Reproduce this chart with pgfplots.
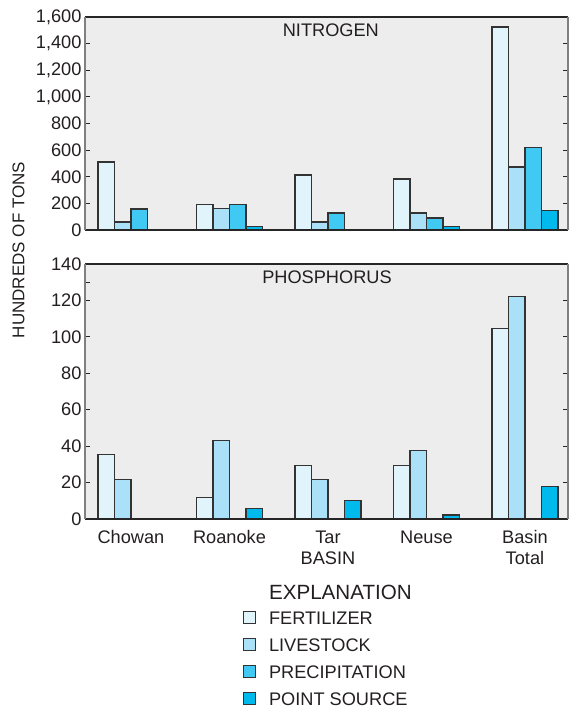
\documentclass[border=0pt]{standalone}
\usepackage{fontspec}
\setmainfont{Liberation Sans}
\usepackage{pgfplots}
\pgfplotsset{compat=1.18}
\definecolor{fert}{HTML}{E1F3FB}
\definecolor{live}{HTML}{ABE0F9}
\definecolor{prec}{HTML}{40C9F3}
\definecolor{pnt}{HTML}{00B9ED}
\definecolor{bg}{HTML}{EDEDED}
\definecolor{edge}{HTML}{333333}
\definecolor{txt}{HTML}{231F20}
\newcommand{\fs}{\fontsize{18.2}{21}\selectfont}
\pgfplotsset{
  panel/.style={
    scale only axis, width=483pt,
    xmin=-0.467, xmax=4.437, ymin=0,
    axis background/.style={fill=bg},
    axis line style={draw=none},
    xtick={0,...,4}, major x tick style={draw=none},
    tick align=inside, major tick length=5pt,
    ticklabel pos=left,
    ytick style={draw=black!85, line width=1pt},
    tick label style={font=\fs, text=txt},
    /pgf/number format/assume math mode=true,
    /pgf/number format/1000 sep={,},
    clip=false,
  },
  bars/.style={ybar, draw=edge, line width=1.1pt, bar width=16.5pt},
  b1/.style={bars, fill=fert, bar shift=-24.75pt},
  b2/.style={bars, fill=live, bar shift=-8.25pt},
  b3/.style={bars, fill=prec, bar shift=8.25pt},
  b4/.style={bars, fill=pnt, bar shift=24.75pt},
}
\begin{document}
\begin{tikzpicture}
\useasboundingbox (0,0) rectangle (569pt,710pt);
% ---------------- NITROGEN ----------------
\begin{axis}[panel, at={(85pt,480pt)}, anchor=south west, height=213pt,
  ymax=1600, ytick={0,200,...,1600}, xticklabels={}]
\addplot[b1] coordinates {(0,511) (1,190) (2,413) (3,383) (4,1525)};
\addplot[b2] coordinates {(0,60) (1,160) (2,60) (3,128) (4,473)};
\addplot[b3] coordinates {(0,158) (1,190) (2,128) (3,90) (4,623)};
\addplot[b4] coordinates {(1,25) (3,23) (4,145)};
\draw[black!85, line width=1.2pt] (rel axis cs:0,0) -- (rel axis cs:1,0);
\draw[black!85, line width=1.2pt] (rel axis cs:0,1) -- (rel axis cs:1,1);
\draw[black!50, line width=2pt] (rel axis cs:0,0) -- (rel axis cs:0,1);
\draw[black!50, line width=2pt] (rel axis cs:1,0) -- (rel axis cs:1,1);
\node[font=\fs, text=txt] at (rel axis cs:0.509,0.937) {NITROGEN};
\end{axis}
% ---------------- PHOSPHORUS ----------------
\begin{axis}[panel, at={(85pt,191pt)}, anchor=south west, height=255pt,
  ymax=140, ytick={0,20,...,140},
  extra y ticks={130}, extra y tick labels={}, extra y tick style={tick pos=left},
  xticklabels={Chowan, Roanoke, {Tar\\BASIN}, Neuse, {Basin\\Total}},
  xticklabel style={align=center, yshift=-8pt, font=\fs},
  legend style={draw=none, fill=none, inner sep=0pt, at={(0.327,-0.255)}, anchor=north west,
    font=\fs, text=txt, row sep=14pt, column sep=13pt,
    nodes={inner sep=0pt, text height=13pt, text depth=0pt}},
  legend cell align=left,
  legend image code/.code={\draw[#1, line width=0.9pt] (0pt,-6pt) rectangle (12pt,6pt);}]
\addlegendimage{empty legend}
\addlegendentry{\raisebox{-2.5pt}{\fontsize{20.6}{24}\selectfont EXPLANATION}}
\addlegendimage{fill=fert, draw=edge}
\addlegendentry{FERTILIZER}
\addlegendimage{fill=live, draw=edge}
\addlegendentry{LIVESTOCK}
\addlegendimage{fill=prec, draw=edge}
\addlegendentry{PRECIPITATION}
\addlegendimage{fill=pnt, draw=edge}
\addlegendentry{POINT SOURCE}
\addplot[b1, forget plot] coordinates {(0,35.3) (1,11.8) (2,29.5) (3,29.5) (4,104.6)};
\addplot[b2, forget plot] coordinates {(0,21.7) (1,43) (2,21.7) (3,37.4) (4,122)};
\addplot[b4, forget plot] coordinates {(1,6) (2,10.2) (3,2.2) (4,17.7)};
\draw[black!85, line width=1.2pt] (rel axis cs:0,0) -- (rel axis cs:1,0);
\draw[black!85, line width=1.2pt] (rel axis cs:0,1) -- (rel axis cs:1,1);
\draw[black!50, line width=2pt] (rel axis cs:0,0) -- (rel axis cs:0,1);
\draw[black!50, line width=2pt] (rel axis cs:1,0) -- (rel axis cs:1,1);
\node[font=\fs, text=txt] at (rel axis cs:0.501,0.949) {PHOSPHORUS};
\end{axis}
\node[rotate=90, font=\fontsize{17}{20}\selectfont, text=txt] at (18.5pt,460pt) {HUNDREDS OF TONS};
\end{tikzpicture}
\end{document}
